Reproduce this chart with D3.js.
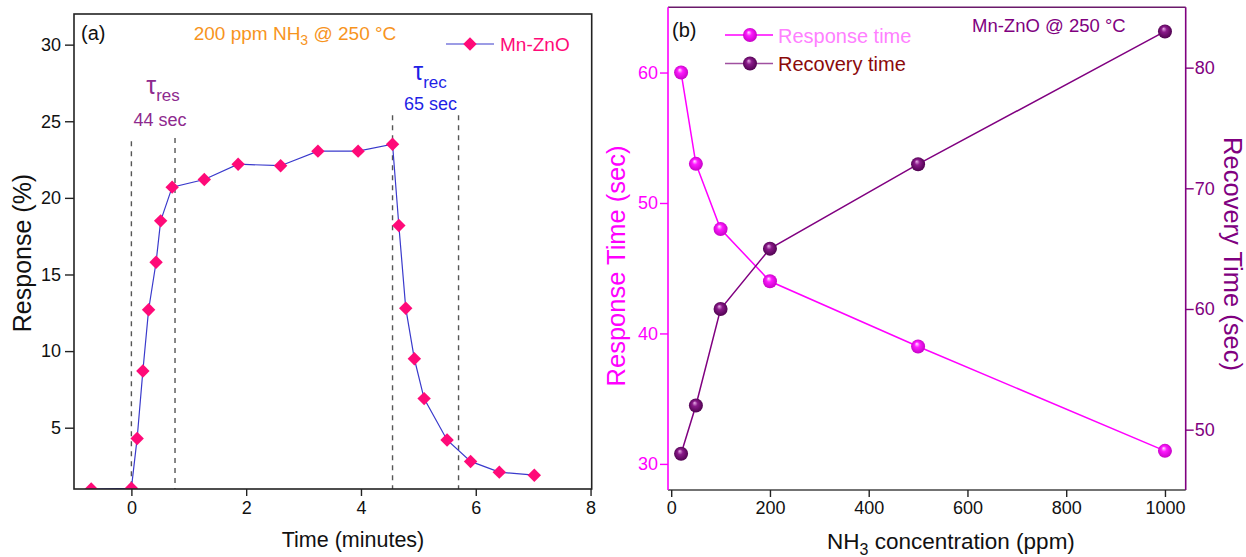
<!DOCTYPE html>
<html>
<head>
<meta charset="utf-8">
<script src="https://cdn.jsdelivr.net/npm/d3@7"></script>
<style>
  body { margin: 0; background: #fff; }
  svg text { font-family: "Liberation Sans", Arial, sans-serif; }
</style>
</head>
<body>
<svg id="chart" width="1246" height="557"></svg>
<script>
// panel (a) data
var timeMin = [-0.7, 0, 0.1, 0.2, 0.3, 0.43, 0.51, 0.71, 1.27, 1.86, 2.6, 3.25, 3.95, 4.55, 4.66, 4.78, 4.93, 5.1, 5.5, 5.91, 6.41, 7.02];
var responsePct = [1.0, 1.05, 4.3, 8.7, 12.7, 15.8, 18.5, 20.7, 21.2, 22.2, 22.1, 23.05, 23.05, 23.5, 18.2, 12.8, 9.5, 6.9, 4.2, 2.8, 2.1, 1.9];
var dashX = [0, 0.76, 4.55, 5.7];
var dashTop = [23.7, 23.9, 25.4, 25.4];
var timeTicks = [0, 2, 4, 6, 8];
var respTicks = [5, 10, 15, 20, 25, 30];

// panel (b) data
var conc = [20, 50, 100, 200, 500, 1000];
var respTime = [60, 53, 48, 44, 39, 31];
var recTime = [48, 52, 60, 65, 72, 83];
var concTicks = [0, 200, 400, 600, 800, 1000];
var respTimeTicks = [30, 40, 50, 60];
var recTimeTicks = [50, 60, 70, 80];

var svg = d3.select("#chart");

// gradients for the sphere markers
var defs = svg.append("defs");
function sphere(id, hi, mid, edge) {
  var g = defs.append("radialGradient").attr("id", id)
    .attr("cx", "50%").attr("cy", "50%").attr("r", "55%")
    .attr("fx", "40%").attr("fy", "30%");
  g.append("stop").attr("offset", "0%").attr("stop-color", hi);
  g.append("stop").attr("offset", "35%").attr("stop-color", mid);
  g.append("stop").attr("offset", "100%").attr("stop-color", edge);
}
sphere("gResp", "#ffe8ff", "#ff1aff", "#c000c0");
sphere("gRec", "#e8b0e8", "#8a1a8a", "#4a004a");

/* ---------- panel (a) ---------- */
var ax = {l: 74, r: 591.7, t: 14, b: 489};
var x1 = d3.scaleLinear().domain([-1, 8.02]).range([ax.l, ax.r]);
var y1 = d3.scaleLinear().domain([1, 32]).range([ax.b, ax.t]);

defs.append("clipPath").attr("id", "clipA").append("rect")
  .attr("x", ax.l).attr("y", ax.t).attr("width", ax.r - ax.l).attr("height", ax.b - ax.t);

var pa = svg.append("g");

// dashed guide lines
pa.selectAll("line.dash").data(dashX).enter().append("line")
  .attr("class", "dash")
  .attr("x1", function (d) { return x1(d); }).attr("x2", function (d) { return x1(d); })
  .attr("y1", function (d, i) { return y1(dashTop[i]); }).attr("y2", ax.b)
  .attr("stroke", "#555").attr("stroke-width", 1.4).attr("stroke-dasharray", "5,5");

var ptsA = timeMin.map(function (t, i) { return [t, responsePct[i]]; });
var gA = pa.append("g").attr("clip-path", "url(#clipA)");
gA.append("path").datum(ptsA)
  .attr("fill", "none").attr("stroke", "#3a3acc").attr("stroke-width", 1.2)
  .attr("d", d3.line().x(function (d) { return x1(d[0]); }).y(function (d) { return y1(d[1]); }));

var diamond = d3.symbol().type(d3.symbolDiamond2).size(115);
gA.selectAll("path.pt").data(ptsA).enter().append("path")
  .attr("class", "pt")
  .attr("transform", function (d) { return "translate(" + x1(d[0]) + "," + y1(d[1]) + ")"; })
  .attr("d", diamond).attr("fill", "#ff0a78");

pa.append("rect").attr("x", ax.l).attr("y", ax.t).attr("width", ax.r - ax.l).attr("height", ax.b - ax.t)
  .attr("fill", "none").attr("stroke", "#222").attr("stroke-width", 1.6);

var xa1 = pa.append("g").attr("transform", "translate(0," + ax.b + ")")
  .call(d3.axisBottom(x1).tickValues(timeTicks).tickSize(7).tickPadding(5).tickFormat(d3.format("d")));
var ya1 = pa.append("g").attr("transform", "translate(" + ax.l + ",0)")
  .call(d3.axisLeft(y1).tickValues(respTicks).tickSize(9).tickPadding(4).tickFormat(d3.format("d")));
[xa1, ya1].forEach(function (a) {
  a.select(".domain").remove();
  a.selectAll("line").attr("stroke", "#222").attr("stroke-width", 1.4);
  a.selectAll("text").attr("font-size", 18).attr("fill", "#111")
    .style("font-family", "'Liberation Sans', Arial, sans-serif");
});

pa.append("text").attr("x", 353).attr("y", 547).attr("text-anchor", "middle")
  .attr("font-size", 21.5).attr("fill", "#111").text("Time (minutes)");
pa.append("text").attr("transform", "translate(31,253) rotate(-90)").attr("text-anchor", "middle")
  .attr("font-size", 25).attr("fill", "#111").text("Response (%)");

pa.append("text").attr("x", 81).attr("y", 40).attr("font-size", 20).attr("fill", "#111").text("(a)");

var t1 = pa.append("text").attr("x", 295).attr("y", 40).attr("text-anchor", "middle")
  .attr("font-size", 19).attr("fill", "#f7941d");
t1.append("tspan").text("200 ppm NH");
t1.append("tspan").attr("font-size", 14).attr("dy", 5).text("3");
t1.append("tspan").attr("dy", -5).text(" @ 250 \u00b0C");

// legend (a)
pa.append("line").attr("x1", 446).attr("x2", 494).attr("y1", 44).attr("y2", 44)
  .attr("stroke", "#3a3acc").attr("stroke-width", 1.2);
pa.append("path").attr("transform", "translate(470,44)").attr("d", diamond).attr("fill", "#ff0a78");
pa.append("text").attr("x", 500).attr("y", 51).attr("font-size", 19).attr("fill", "#ff0a78").text("Mn-ZnO");

// tau annotations
var tr = pa.append("text").attr("x", 163).attr("y", 94).attr("text-anchor", "middle")
  .attr("font-size", 25).attr("fill", "#8e2a8e");
tr.append("tspan").text("\u03c4");
tr.append("tspan").attr("font-size", 17).attr("dy", 7).text("res");
pa.append("text").attr("x", 160).attr("y", 126).attr("text-anchor", "middle")
  .attr("font-size", 18).attr("fill", "#8e2a8e").text("44 sec");

var tc = pa.append("text").attr("x", 430).attr("y", 80).attr("text-anchor", "middle")
  .attr("font-size", 25).attr("fill", "#1f1fe6");
tc.append("tspan").text("\u03c4");
tc.append("tspan").attr("font-size", 17).attr("dy", 8).text("rec");
pa.append("text").attr("x", 430.5).attr("y", 110).attr("text-anchor", "middle")
  .attr("font-size", 18).attr("fill", "#1f1fe6").text("65 sec");

/* ---------- panel (b) ---------- */
var bx = {l: 668, r: 1185.7, t: 7.3, b: 490};
var x2 = d3.scaleLinear().domain([-6.5, 1042]).range([bx.l, bx.r]);
var yL = d3.scaleLinear().domain([28, 65]).range([bx.b, bx.t]);
var yR = d3.scaleLinear().domain([45, 85]).range([bx.b, bx.t]);

var pb = svg.append("g");

pb.append("line").attr("x1", bx.l).attr("x2", bx.r).attr("y1", bx.t).attr("y2", bx.t)
  .attr("stroke", "#6a1a6a").attr("stroke-width", 1.5);
pb.append("line").attr("x1", bx.l).attr("x2", bx.r).attr("y1", bx.b).attr("y2", bx.b)
  .attr("stroke", "#444").attr("stroke-width", 1.5);
pb.append("line").attr("x1", bx.l).attr("x2", bx.l).attr("y1", bx.t).attr("y2", bx.b)
  .attr("stroke", "#ff00ff").attr("stroke-width", 1.6);
pb.append("line").attr("x1", bx.r).attr("x2", bx.r).attr("y1", bx.t).attr("y2", bx.b)
  .attr("stroke", "#800080").attr("stroke-width", 1.6);

var lineResp = d3.line().x(function (d, i) { return x2(conc[i]); }).y(function (d) { return yL(d); });
var lineRec = d3.line().x(function (d, i) { return x2(conc[i]); }).y(function (d) { return yR(d); });

pb.append("path").datum(respTime).attr("fill", "none").attr("stroke", "#ff00ff")
  .attr("stroke-width", 1.5).attr("d", lineResp);
pb.append("path").datum(recTime).attr("fill", "none").attr("stroke", "#800080")
  .attr("stroke-width", 1.5).attr("d", lineRec);

pb.selectAll("circle.resp").data(respTime).enter().append("circle")
  .attr("class", "resp").attr("cx", function (d, i) { return x2(conc[i]); })
  .attr("cy", function (d) { return yL(d); }).attr("r", 7).attr("fill", "url(#gResp)");
pb.selectAll("circle.rec").data(recTime).enter().append("circle")
  .attr("class", "rec").attr("cx", function (d, i) { return x2(conc[i]); })
  .attr("cy", function (d) { return yR(d); }).attr("r", 7).attr("fill", "url(#gRec)");

var xa2 = pb.append("g").attr("transform", "translate(0," + bx.b + ")")
  .call(d3.axisBottom(x2).tickValues(concTicks).tickSize(7).tickPadding(4).tickFormat(d3.format("d")));
var yaL = pb.append("g").attr("transform", "translate(" + bx.l + ",0)")
  .call(d3.axisLeft(yL).tickValues(respTimeTicks).tickSize(8).tickPadding(2).tickFormat(d3.format("d")));
var yaR = pb.append("g").attr("transform", "translate(" + bx.r + ",0)")
  .call(d3.axisRight(yR).tickValues(recTimeTicks).tickSize(8).tickPadding(1).tickFormat(d3.format("d")));
[[xa2, "#222", "#111"], [yaL, "#ff00ff", "#ff00ff"], [yaR, "#800080", "#800080"]].forEach(function (a) {
  a[0].select(".domain").remove();
  a[0].selectAll("line").attr("stroke", a[1]).attr("stroke-width", 1.4);
  a[0].selectAll("text").attr("font-size", 18).attr("fill", a[2])
    .style("font-family", "'Liberation Sans', Arial, sans-serif");
});

var xl2 = pb.append("text").attr("x", 951).attr("y", 549).attr("text-anchor", "middle")
  .attr("font-size", 22.5).attr("fill", "#111");
xl2.append("tspan").text("NH");
xl2.append("tspan").attr("font-size", 16).attr("dy", 6).text("3");
xl2.append("tspan").attr("dy", -6).text(" concentration (ppm)");

pb.append("text").attr("transform", "translate(625,266) rotate(-90)").attr("text-anchor", "middle")
  .attr("font-size", 25.5).attr("fill", "#ff00ff").text("Response Time (sec)");
pb.append("text").attr("transform", "translate(1224,254) rotate(90)").attr("text-anchor", "middle")
  .attr("font-size", 25.5).attr("fill", "#800080").text("Recovery Time (sec)");

pb.append("text").attr("x", 672).attr("y", 37).attr("font-size", 20).attr("fill", "#111").text("(b)");
pb.append("text").attr("x", 972).attr("y", 32).attr("font-size", 18.5).attr("fill", "#800080").text("Mn-ZnO @ 250 \u00b0C");

// legend (b)
var leg = [
  {label: "Response time", y: 35, line: "#ff00ff", fill: "url(#gResp)", text: "#ff80ff"},
  {label: "Recovery time", y: 63.5, line: "#a050a0", fill: "url(#gRec)", text: "#8b0a0a"}
];
var lg = pb.selectAll("g.leg").data(leg).enter().append("g").attr("class", "leg");
lg.append("line").attr("x1", 725).attr("x2", 773).attr("y1", function (d) { return d.y; })
  .attr("y2", function (d) { return d.y; }).attr("stroke", function (d) { return d.line; }).attr("stroke-width", 1.5);
lg.append("circle").attr("cx", 750).attr("cy", function (d) { return d.y; }).attr("r", 7)
  .attr("fill", function (d) { return d.fill; });
lg.append("text").attr("x", 778).attr("y", function (d) { return d.y + 7.5; }).attr("font-size", 20)
  .attr("fill", function (d) { return d.text; }).text(function (d) { return d.label; });
</script>
</body>
</html>
